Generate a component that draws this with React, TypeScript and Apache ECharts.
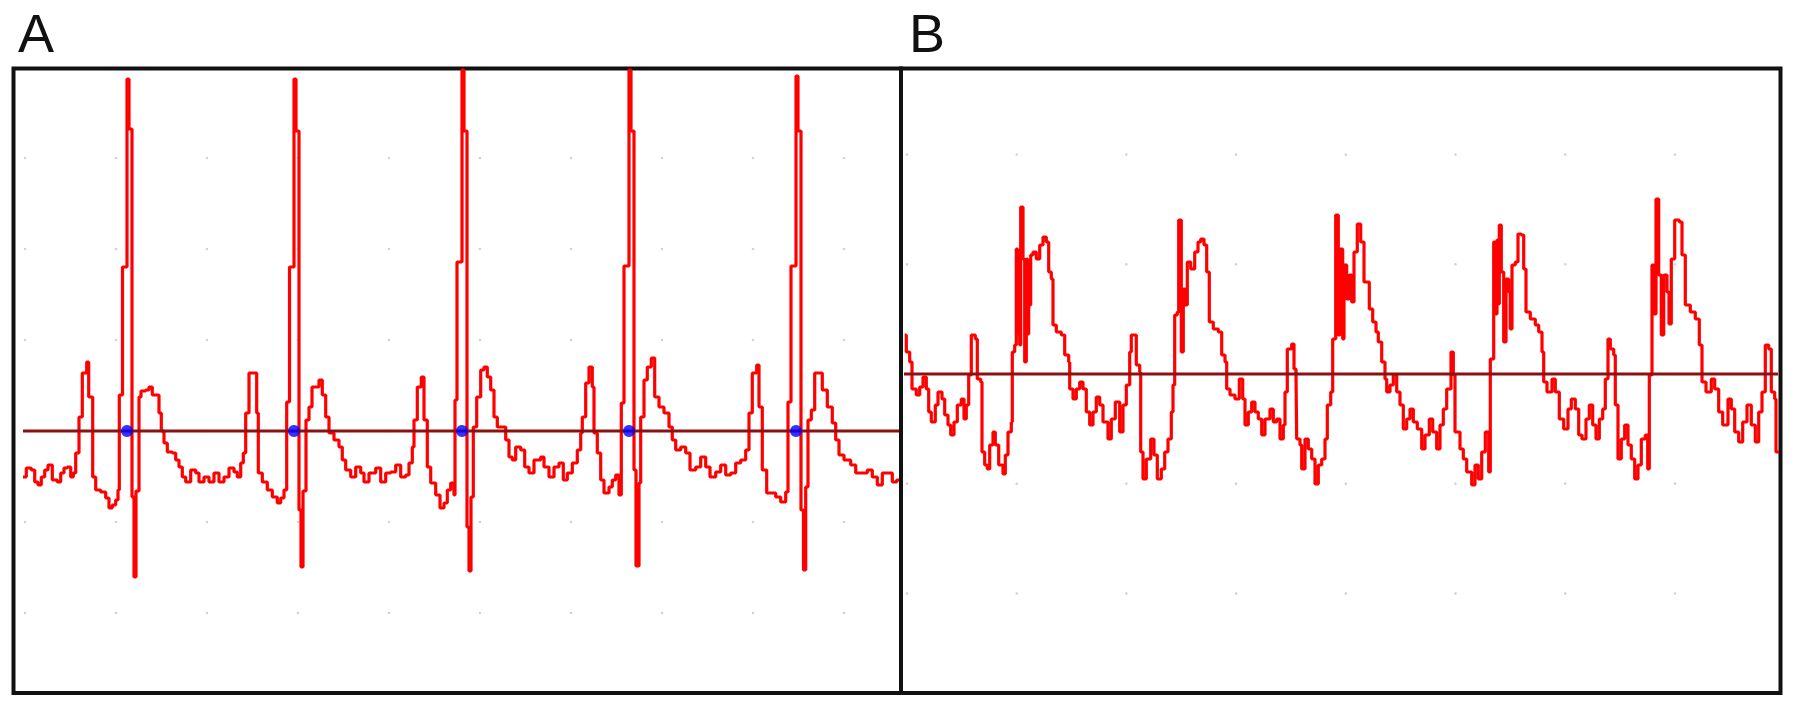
import React, { useEffect, useRef } from "react";
import * as echarts from "echarts";

// ---------- Panel A : ECG trace (time units, amplitude units; baseline = 0) ----------
const A_BEAT_1: [number, number][] = [
  [-2, -46], [1.3, -37], [6.3, -39], [9.7, -51], [13, -54], [16.3, -46], [19.7, -39], [23, -34],
  [27.3, -49], [32.3, -51], [35.7, -42], [39, -37], [42.3, -36], [45.7, -46], [48.3, -42],
  [50.7, -22], [54, 14], [57.3, 58], [61.7, 69], [63.7, 34], [67.7, -46], [70.7, -59],
  [75.7, -61], [80.7, -67], [84, -77], [87.3, -74], [90.7, -69], [93, -59], [94.3, 36],
  [97.5, 164], [102, 352], [104, 302], [107, -66], [109, -146], [111, -60], [114, 34],
  [116, 40], [120.7, 41], [124, 44], [127.3, 36], [134, 18], [136.3, 0], [139, -12],
  [142.3, -21], [147.3, -22], [150.7, -29], [154, -36], [157.3, -46], [160.7, -51],
  [165.7, -39], [170.7, -42], [174, -51], [179, -46], [184, -51], [189, -42], [194, -51],
  [199, -46], [204, -37], [209, -41], [212.3, -46], [215.7, -32], [218.3, -22], [220.7, 18],
  [224, 58], [231.7, 18], [233.3, -42], [237.3, -51], [242.3, -59], [247.3, -66],
  [252.3, -72], [255.7, -67], [259, -59], [261.7, 29],
];
const A_BEAT_2: [number, number][] = [
  [264.5, 164], [269, 352], [271, 300], [274, -79], [276, -136], [278, -60], [281, 11],
  [284, 24], [287, 44], [294, 51], [297.3, 36], [300.7, 14], [304, -2], [309, -9], [314, -16],
  [317.3, -29], [320.7, -39], [325.7, -46], [330.7, -36], [335.7, -42], [339, -51],
  [344, -42], [350.7, -37], [355.7, -51], [360.7, -42], [365.7, -41], [370.7, -34],
  [375.7, -46], [380.7, -44], [384, -32], [387.3, -16], [389, 11], [392.3, 44], [396.3, 54],
  [399, 11], [402.3, -36], [405.7, -52], [410.7, -64], [415, -77], [419, -72], [422.3, -59],
  [425.7, -52], [429, -64], [430, 31],
];
const A_BEAT_3: [number, number][] = [
  [432, 169], [437, 361], [439, 300], [442, -96], [444, -140], [446, -66], [448.3, 4],
  [451.7, 34], [455.7, 61], [459, 64], [462.3, 54], [465.7, 41], [469, 14], [472.3, 4],
  [480.7, -9], [484, -26], [487.3, -29], [490.7, -16], [495.7, -19], [499.7, -36], [504, -42],
  [509, -29], [515.7, -26], [519, -36], [524, -46], [529, -36], [534, -32], [538.3, -49],
  [542.3, -42], [547.3, -32], [552.3, -19], [555.7, -2], [557.3, 14], [560.7, 48], [564, 64],
  [567.3, 44], [569, -2], [572.3, -22], [575.7, -49], [579, -62], [584, -56], [587.3, -49],
  [590.7, -44], [594, -64], [596.3, 28],
];
const A_BEAT_4: [number, number][] = [
  [599, 165], [604, 361], [606, 300], [609, -39], [611, -135], [614, -52], [615.7, 14],
  [619, 51], [622.3, 64], [626.3, 73], [629.7, 34], [634, 24], [639, 18], [644, 4],
  [647.3, -9], [650.7, -19], [655.7, -16], [660.7, -22], [665, -39], [670.7, -36],
  [675.7, -26], [680.7, -36], [685, -46], [690.7, -41], [695.7, -34], [700.7, -44],
  [705.7, -42], [710.7, -32], [715.7, -29], [720.7, -19], [724, 18], [727.3, 58], [731.7, 66],
  [734, 24], [737.3, -39], [741.7, -62], [750.7, -66], [755.7, -71], [760.7, -61], [763, 29],
];
const A_BEAT_5: [number, number][] = [
  [766, 165], [771, 355], [773, 300], [776, -79], [778.5, -139], [780.7, -56], [783, 11],
  [786.3, 21], [789.7, 58], [797.3, 41], [802.3, 24], [807.3, 8], [810.7, -9], [814, -24],
  [819, -29], [825.7, -34], [830.7, -42], [842.3, -39], [847.3, -46], [852.3, -54],
  [857.3, -42], [867.3, -51], [871.7, -49], [874, -49],
];
const A_R_PEAKS = [102, 269, 437, 604, 771];
const A_BASELINE: [number, number] = [-2, 874];

// ---------- Panel B : trace ----------
const B_CYCLE_1: [number, number][] = [
  [-2.3, 39], [-0.7, 22], [2.7, 12], [5, -15], [9.3, -21], [12.7, -13], [16, -3], [19.3, -15],
  [21.7, -38], [24.3, -48], [28.3, -31], [31, -18], [35, -25], [37.7, -41], [41, -51],
  [43.7, -61], [47, -48], [50.3, -31], [54.3, -25], [57, -45], [59.3, -31], [61.7, -1],
  [64.3, 39], [68.3, 35], [70.3, -5], [73.7, -8], [75, -78], [77.7, -91], [80.3, -95],
  [82.7, -71], [86, -58], [88.3, -71], [91.7, -91], [96, -100], [98.3, -81], [101, -58],
  [104.3, -48], [105.3, 22], [107.7, 29], [109.3, 125], [110.5, 40], [111.7, 120],
  [112.7, 29], [113.7, 167], [116, 115], [117.7, 12], [119.3, 115], [120.5, 40], [121.7, 69],
  [123.7, 119], [126, 122], [129.3, 115], [132.7, 129], [136, 137], [139.3, 132],
  [141.7, 102], [144.3, 95], [146, 49], [149.3, 42], [154.3, 39], [157.7, 19], [161.7, 12],
];
const B_CYCLE_2: [number, number][] = [
  [162.7, -15], [166, -25], [169.3, -15], [172.7, -8], [176, -15], [179.3, -38], [182.7, -51],
  [186, -38], [189.3, -23], [192.7, -31], [196, -48], [201, -65], [204.3, -45], [208.3, -28],
  [212.7, -58], [216, -31], [219.3, -11], [222.7, 22], [224.3, 39], [229.3, 9], [232.7, 2],
  [233.7, -78], [236, -105], [239.3, -85], [243.7, -65], [247, -81], [250.3, -105],
  [254.3, -95], [257.7, -78], [261, -65], [264.3, -38], [266, -11], [267.7, 59], [270.3, 62],
  [271.7, 154], [274.3, 22], [276.3, 85], [278.3, 69], [280.3, 112], [283.7, 105],
  [287.7, 122], [291, 132], [293.7, 135], [297, 129], [299.7, 102], [302.3, 52], [306.3, 45],
  [311.3, 42], [314.7, 19], [318, 12],
];
const B_CYCLE_3: [number, number][] = [
  [319.7, -15], [323, -21], [328, -25], [332.3, -5], [335.7, -25], [338, -51], [341.3, -38],
  [344.7, -28], [348, -38], [351.3, -45], [354.7, -61], [358, -45], [363, -35], [366.3, -48],
  [369.7, -45], [373, -65], [376.3, -51], [378, -18], [380.3, 25], [384.7, 30], [387, 5],
  [389, -1], [389.7, -65], [393, -71], [394.7, -95], [398, -65], [401.3, -75], [404.7, -85],
  [408, -110], [411.3, -91], [414.7, -85], [418, -65], [420.3, -31], [423.7, -18],
  [425.7, 35], [428.7, 159], [431.3, 39], [433, 125], [435.7, 35], [437, 109], [439.7, 75],
  [442.3, 99], [444.7, 72], [447, 122], [450.3, 150], [453.7, 132], [457, 92], [462.3, 65],
  [465.7, 52], [469, 42], [471.3, 32], [474.7, 12],
];
const B_CYCLE_4: [number, number][] = [
  [478, -5], [479.7, -18], [483, -11], [486.3, -1], [489.7, -18], [493, -31], [496.3, -55],
  [499.7, -45], [503, -35], [506.3, -48], [510.3, -55], [514.7, -75], [518, -61],
  [522.3, -45], [525.7, -58], [529.7, -75], [533, -51], [536.3, -35], [539.7, -15], [544, 22],
  [546.3, -1], [548, -58], [553, -75], [556.3, -85], [559.7, -98], [564.7, -111], [568, -91],
  [571.3, -105], [574.7, -78], [578.3, -58], [581.7, -98], [583.3, 15], [586.7, 132],
  [588, 60], [590, 134], [591.2, 70], [592.3, 149], [594.3, 102], [596.7, 32], [599, 95],
  [601.7, 82], [603.2, 45], [605, 109], [608.3, 112], [611, 140], [614.3, 139], [616.7, 105],
  [619, 62], [623.3, 55], [628.3, 49], [631.7, 42], [635, 22],
];
const B_CYCLE_5: [number, number][] = [
  [636.7, -8], [640, -18], [645, -5], [648.3, -18], [652.3, -45], [656.7, -55], [661, -35],
  [664.3, -25], [668.3, -35], [671.7, -61], [675, -65], [679, -45], [682.3, -31],
  [685.7, -51], [689, -65], [692.3, -45], [695.7, -35], [698.3, -5], [701, 35], [703.3, 25],
  [706.7, 19], [708.3, -31], [711, -85], [714.3, -65], [717.7, -51], [721, -71], [724.3, -85],
  [727.7, -105], [731, -91], [734.3, -65], [738.3, -61], [740.7, -95], [742.3, -1],
  [745, 109], [747, 60], [749, 175], [751.7, 99], [754.3, 39], [756.7, 99], [760, 82],
  [762, 50], [764.3, 115], [767.7, 154], [772.3, 152], [775, 119], [778.3, 69], [783.3, 62],
  [788.3, 55], [792.3, 29], [795, -8], [799, -18], [804.3, -5], [807.7, -15], [811.7, -38],
  [815.7, -51], [821, -25], [824.3, -35], [827.7, -58], [831.7, -68], [835.7, -48], [840, -31],
  [844.3, -51], [848.3, -68], [851.7, -38], [855, -18], [858.3, 29], [861.7, 25],
  [864.3, -18], [867.7, -25], [869, -78], [872, -78],
];
const B_BASELINE: [number, number] = [-3, 871];

// ---------- axes / layout ----------
const A_X_RANGE: [number, number] = [-11.5, 876];
const A_Y_RANGE: [number, number] = [-262, 362.5];
const B_X_RANGE: [number, number] = [-6, 873.5];
const B_Y_RANGE: [number, number] = [-319, 305.5];
const A_GRID_STEP = 91;
const B_GRID_STEP = 109.7;
const PANEL_LABELS = ["A", "B"];

function gridDots(xr: [number, number], yr: [number, number], step: number) {
  const pts: [number, number][] = [];
  for (let i = Math.ceil(xr[0] / step); i * step <= xr[1]; i++) {
    for (let j = Math.ceil(yr[0] / step); j * step <= yr[1]; j++) {
      pts.push([i * step, j * step]);
    }
  }
  return pts;
}

export default function App() {
  const ref = useRef<HTMLDivElement>(null);
  useEffect(() => {
    if (!ref.current) return;
    const chart = echarts.init(ref.current, null, { renderer: "svg" });
    const traceA = [...A_BEAT_1, ...A_BEAT_2, ...A_BEAT_3, ...A_BEAT_4, ...A_BEAT_5];
    const traceB = [...B_CYCLE_1, ...B_CYCLE_2, ...B_CYCLE_3, ...B_CYCLE_4, ...B_CYCLE_5];
    const RED = "#ff0000";
    const BASE = "#8a1212";
    const labelFont = '54px "Liberation Sans", Arial, sans-serif';
    chart.setOption({
      animation: false,
      backgroundColor: "#ffffff",
      grid: [
        { left: 13.5, top: 68.5, width: 887.5, height: 624.5, show: true, borderColor: "#111111", borderWidth: 4, backgroundColor: "transparent" },
        { left: 901, top: 68.5, width: 879.5, height: 624.5, show: true, borderColor: "#111111", borderWidth: 4, backgroundColor: "transparent" },
      ],
      xAxis: [
        { type: "value", gridIndex: 0, min: A_X_RANGE[0], max: A_X_RANGE[1], show: false },
        { type: "value", gridIndex: 1, min: B_X_RANGE[0], max: B_X_RANGE[1], show: false },
      ],
      yAxis: [
        { type: "value", gridIndex: 0, min: A_Y_RANGE[0], max: A_Y_RANGE[1], show: false },
        { type: "value", gridIndex: 1, min: B_Y_RANGE[0], max: B_Y_RANGE[1], show: false },
      ],
      graphic: [
        { type: "text", x: 18, y: 33, style: { text: PANEL_LABELS[0], font: labelFont, fill: "#111", align: "left", verticalAlign: "middle" } },
        { type: "text", x: 909, y: 33, style: { text: PANEL_LABELS[1], font: labelFont, fill: "#111", align: "left", verticalAlign: "middle" } },
      ],
      series: [
        {
          type: "scatter", xAxisIndex: 0, yAxisIndex: 0, silent: true, z: 1,
          data: gridDots(A_X_RANGE, A_Y_RANGE, A_GRID_STEP), symbolSize: 2.5,
          itemStyle: { color: "#c4c4c4" },
        },
        {
          type: "scatter", xAxisIndex: 1, yAxisIndex: 1, silent: true, z: 1,
          data: gridDots(B_X_RANGE, B_Y_RANGE, B_GRID_STEP), symbolSize: 2.5,
          itemStyle: { color: "#c4c4c4" },
        },
        {
          type: "line", xAxisIndex: 0, yAxisIndex: 0, data: traceA, step: "end", showSymbol: false, z: 3,
          lineStyle: { color: RED, width: 3.2 },
        },
        {
          type: "line", xAxisIndex: 1, yAxisIndex: 1, data: traceB, step: "end", showSymbol: false, z: 3,
          lineStyle: { color: RED, width: 3.2 },
        },
        {
          type: "line", xAxisIndex: 0, yAxisIndex: 0, data: A_BASELINE.map((t) => [t, 0]), showSymbol: false, z: 4,
          lineStyle: { color: BASE, width: 3 },
        },
        {
          type: "line", xAxisIndex: 1, yAxisIndex: 1, data: B_BASELINE.map((t) => [t, 0]), showSymbol: false, z: 4,
          lineStyle: { color: BASE, width: 3 },
        },
        {
          type: "scatter", xAxisIndex: 0, yAxisIndex: 0, z: 5,
          data: A_R_PEAKS.map((t) => [t, 0]), symbolSize: 12,
          itemStyle: { color: "#0000ff" },
        },
      ],
    });
    return () => chart.dispose();
  }, []);
  return (
    <div
      ref={ref}
      style={{ position: "fixed", left: 0, top: 0, width: 1795, height: 709, background: "#ffffff" }}
    />
  );
}
